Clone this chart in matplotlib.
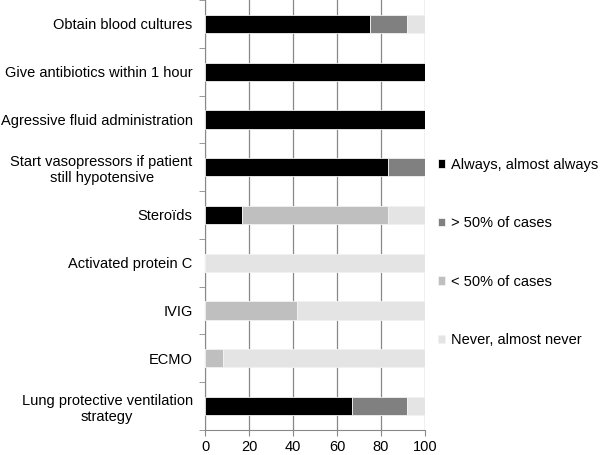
import numpy as np
import matplotlib
matplotlib.use("Agg")
from matplotlib import pyplot as plt

plt.rcParams['font.family'] = ['Liberation Sans', 'DejaVu Sans']

categories = ["Obtain blood cultures", "Give antibiotics within 1 hour",
              "Agressive fluid administration",
              "Start vasopressors if patient\nstill hypotensive",
              "Stero\u00efds", "Activated protein C", "IVIG", "ECMO",
              "Lung protective ventilation\nstrategy"]
always = [75, 100, 100, 83.3, 16.7, 0, 0, 0, 66.7]
over50 = [16.7, 0, 0, 16.7, 0, 0, 0, 0, 25]
under50 = [0, 0, 0, 0, 66.7, 0, 41.7, 8.3, 0]
never = [8.3, 0, 0, 0, 16.6, 100, 58.3, 91.7, 8.3]
series_names = ["Always, almost always", "> 50% of cases", "< 50% of cases",
                "Never, almost never"]
colors = ["#000000", "#808080", "#bfbfbf", "#e4e4e4"]

fig = plt.figure(figsize=(6, 4.55), dpi=100)
ax = fig.add_axes([0.342, 0.055, 0.366, 0.945])

y = np.arange(len(categories))
left = np.zeros(len(categories))
for vals, name, c in zip([always, over50, under50, never], series_names, colors):
    vals = np.array(vals)
    ax.barh(y, vals, left=left, height=0.38, color=c, label=name,
            edgecolor='#f2f2f2', linewidth=0.6, zorder=3)
    left += vals

ax.set_xlim(0, 100)
ax.set_ylim(len(categories) - 0.5, -0.5)
ax.set_xticks(np.arange(0, 101, 20))
ax.set_yticks(y)
ax.set_yticklabels(categories, fontsize=10.5, multialignment='center')
ax.tick_params(axis='y', length=0, pad=9)
ax.set_yticks(np.arange(-0.5, len(categories), 1), minor=True)
ax.tick_params(axis='y', which='minor', length=4, color='#888888', direction='out')
ax.tick_params(axis='x', length=4, color='#888888', labelsize=10.5)
ax.xaxis.grid(True, color='#888888', linewidth=0.9, zorder=0)
for s in ['top', 'right']:
    ax.spines[s].set_visible(False)
for s in ['left', 'bottom']:
    ax.spines[s].set_color('#888888')

ax.legend(loc='center left', bbox_to_anchor=(1.0, 0.413), frameon=False,
          fontsize=10.5, handlelength=0.5, handleheight=0.5, handletextpad=0.4,
          labelspacing=3.05)

fig.savefig("out.png", dpi=100)
